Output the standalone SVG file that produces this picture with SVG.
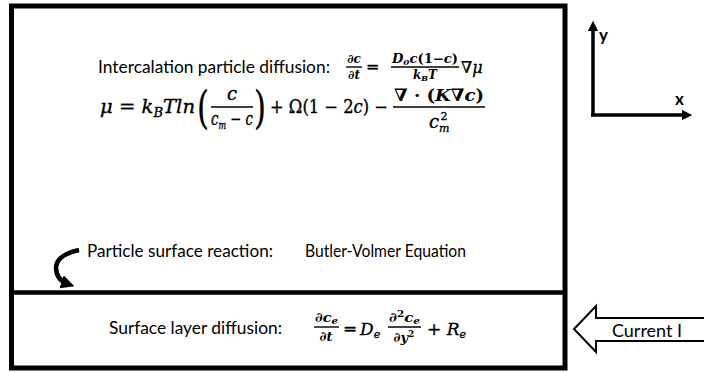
<svg xmlns="http://www.w3.org/2000/svg" width="704" height="372" viewBox="0 0 704 372">
<defs>
<style>
.t{font-family:Lato,"Open Sans","Liberation Sans",sans-serif;font-size:17px;fill:#000}
.m{font-family:"DejaVu Serif","Liberation Serif",serif;font-style:italic;fill:#000}
.r{stroke:#000;stroke-width:0.35}
.u{font-style:normal}
.bar{stroke:#000;stroke-width:1.4}
.frame{fill:none;stroke:#000;stroke-width:5}
</style>
<marker id="ah2" markerWidth="3" markerHeight="3" refX="1.5" refY="1.5" orient="auto" markerUnits="strokeWidth">
<path d="M0,0 L3,1.5 L0,3 Z" fill="#000"/>
</marker>
</defs>
<rect id="frame" class="frame" x="11.5" y="6" width="553.5" height="362"/>
<line id="divider" x1="11.5" y1="292.5" x2="565" y2="292.5" stroke="#000" stroke-width="4.5"/>

<g id="particle">
<text class="t" x="98" y="73" textLength="232" lengthAdjust="spacingAndGlyphs">Intercalation particle diffusion:</text>
<text class="m" x="354" y="63" font-size="12" font-weight="bold" text-anchor="middle">∂c</text>
<line class="bar" x1="346" y1="67" x2="362" y2="67"/>
<text class="m" x="354" y="79" font-size="12" font-weight="bold" text-anchor="middle">∂t</text>
<text class="m u r" x="366" y="72" font-size="16">=</text>
<text class="m" x="392" y="63" font-size="12" font-weight="bold" textLength="66" lengthAdjust="spacingAndGlyphs">D<tspan font-size="8" dy="2">0</tspan><tspan dy="-2">c</tspan><tspan class="u">(1−</tspan>c<tspan class="u">)</tspan></text>
<line class="bar" x1="391" y1="67" x2="459" y2="67"/>
<text class="m" x="425" y="79" font-size="12" font-weight="bold" text-anchor="middle">k<tspan font-size="8" dy="2">B</tspan><tspan dy="-2">T</tspan></text>
<text class="m r" x="461" y="73" font-size="16">∇μ</text>

<text class="m r" x="100" y="113" font-size="18" textLength="95" lengthAdjust="spacingAndGlyphs">μ <tspan class="u">=</tspan> k<tspan font-size="12" dy="4">B</tspan><tspan dy="-4">Tln</tspan></text>
<text class="m u r" x="0" y="0" font-size="44" transform="translate(197,123) scale(0.7,1)">(</text>
<text class="m r" x="232" y="100" font-size="18" text-anchor="middle">c</text>
<line class="bar" x1="211" y1="107" x2="253" y2="107"/>
<text class="m r" x="211" y="125" font-size="18" textLength="42" lengthAdjust="spacingAndGlyphs">c<tspan font-size="11" dy="4">m</tspan><tspan dy="-4" class="u"> − </tspan>c</text>
<text class="m u r" x="0" y="0" font-size="44" transform="translate(254,123) scale(0.7,1)">)</text>
<text class="m u r" x="270" y="113" font-size="18" textLength="118" lengthAdjust="spacingAndGlyphs">+ Ω(1 − 2<tspan font-style="italic">c</tspan>) −</text>
<text class="m u" x="394" y="101" font-size="17" font-weight="bold" textLength="90" lengthAdjust="spacingAndGlyphs">∇ · (<tspan font-style="italic">K</tspan>∇<tspan font-style="italic">c</tspan>)</text>
<line class="bar" x1="393" y1="107" x2="485" y2="107"/>
<text class="m r" x="429" y="128" font-size="18">c<tspan font-size="11" dy="4">m</tspan><tspan class="u" font-size="11" dx="-9" dy="-12">2</tspan></text>
</g>

<g id="reaction">
<text class="t" x="87" y="257" textLength="186" lengthAdjust="spacingAndGlyphs">Particle surface reaction:</text>
<text class="t" x="305" y="257" textLength="161" lengthAdjust="spacingAndGlyphs">Butler-Volmer Equation</text>
</g>

<g id="surface">
<text class="t" x="109" y="334" textLength="173" lengthAdjust="spacingAndGlyphs">Surface layer diffusion:</text>
<text class="m" x="315" y="322" font-size="13" font-weight="bold" textLength="23" lengthAdjust="spacingAndGlyphs">∂c<tspan font-size="9" dy="2">e</tspan></text>
<line class="bar" x1="314" y1="327" x2="339" y2="327"/>
<text class="m" x="326" y="341" font-size="13" font-weight="bold" text-anchor="middle">∂t</text>
<text class="m u r" x="343" y="334" font-size="17">=</text>
<text class="m r" x="360" y="335" font-size="17">D<tspan font-size="11" dy="3">e</tspan></text>
<text class="m" x="389" y="322" font-size="13" font-weight="bold" textLength="31" lengthAdjust="spacingAndGlyphs">∂<tspan class="u" font-size="9" dy="-5">2</tspan><tspan dy="5">c</tspan><tspan font-size="9" dy="2">e</tspan></text>
<line class="bar" x1="388" y1="327" x2="421" y2="327"/>
<text class="m" x="404" y="342" font-size="13" font-weight="bold" text-anchor="middle">∂y<tspan class="u" font-size="9" dy="-5">2</tspan></text>
<text class="m r" x="427" y="335" font-size="17"><tspan class="u">+</tspan> R<tspan font-size="11" dy="3">e</tspan></text>
</g>

<g id="current">
<polygon points="706,318 596,318 596,306 574,329 596,352 596,341 706,341" fill="#fff" stroke="#000" stroke-width="2"/>
<text class="t" x="612" y="337" font-size="16" textLength="70" lengthAdjust="spacingAndGlyphs">Current  I</text>
</g>

<g id="axes">
<line x1="593" y1="116" x2="593" y2="26" stroke="#000" stroke-width="3.5" marker-end="url(#ah2)"/>
<line x1="591" y1="115" x2="687" y2="115" stroke="#000" stroke-width="3.5" marker-end="url(#ah2)"/>
<text class="t" x="599" y="41" font-size="16" font-weight="bold">y</text>
<text class="t" x="675" y="105" font-size="16" font-weight="bold">x</text>
</g>

<g id="connectors">
<path d="M79,250 Q57,255 56,267 Q56,280 68,284" fill="none" stroke="#000" stroke-width="4.5" marker-end="url(#ah2)"/>
</g>
</svg>
